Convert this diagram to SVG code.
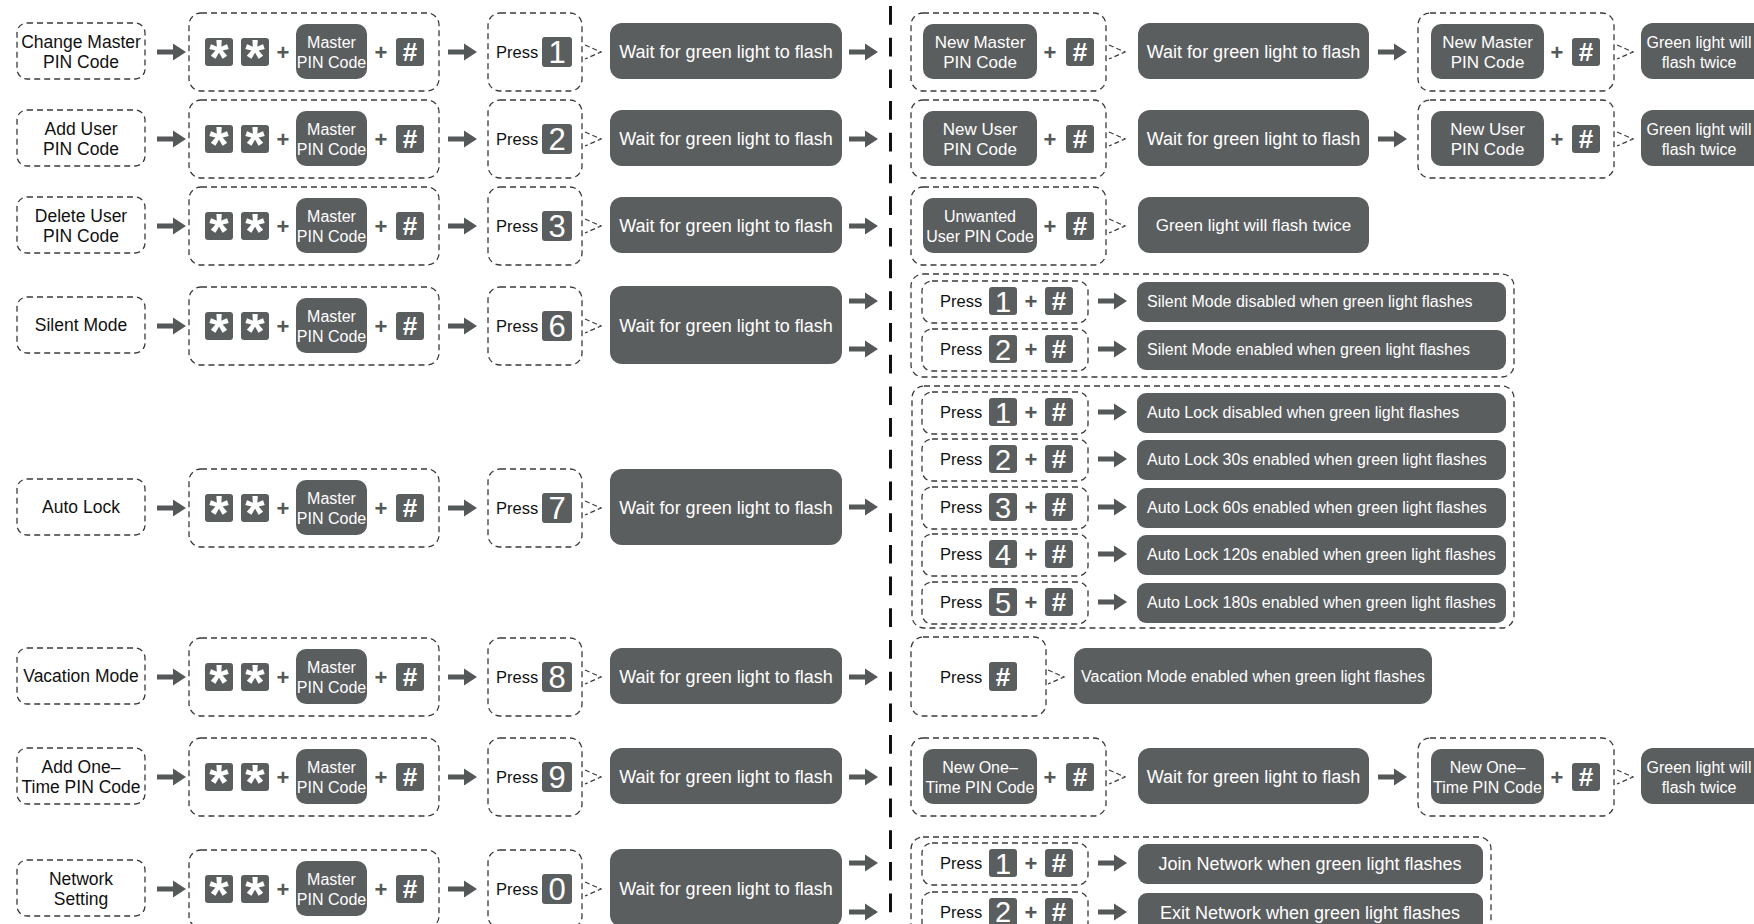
<svg xmlns="http://www.w3.org/2000/svg" xmlns:xlink="http://www.w3.org/1999/xlink" width="1754" height="924" viewBox="0 0 1754 924">
<style>
text{font-family:"Liberation Sans",Arial,sans-serif}
.d{fill:none;stroke:#3a3a3a;stroke-width:1.3;stroke-dasharray:6 4}
.b{fill:#5b5e5f}
.lab{fill:#111;font-size:17.5px;text-anchor:middle}
.pr{fill:#111;font-size:16.5px}
.w{fill:#fff;text-anchor:middle}
.m{font-size:16px}
.wt{font-size:18px}
.st{font-size:50px;font-weight:bold}
.hs{font-size:26px;font-weight:bold}
.dg{font-size:31px}
.dg2{font-size:29px}
.pl{fill:#555859;font-size:22px;font-weight:bold;text-anchor:middle}
.res{fill:#fff;font-size:16px}
.a{fill:#555859}
.ch{fill:none;stroke:#3a3a3a;stroke-width:1.2;stroke-dasharray:5 3}
</style>
<defs>
<path id="arr" class="a" d="M0,-2.5 H16 V-8.5 L29,0 L16,8.5 V2.5 H0 Z"/>
<path id="chev" class="ch" d="M2,-7 L18,0 L2,7"/>
</defs>
<rect width="1754" height="924" fill="#fff"/>
<g id="divider"><line x1="890.5" y1="6" x2="890.5" y2="924" stroke="#111" stroke-width="3" stroke-dasharray="18.7 13"/></g>

<g id="nodes">
<!-- Row 1 -->
<g transform="translate(0,51)">
<g id="r1-label"><rect class="d" x="17" y="-28" width="128" height="56" rx="10"/><text class="lab" x="81" y="-3">Change Master</text><text class="lab" x="81" y="17">PIN Code</text></g>
<g id="r1-combo"><rect class="d" x="189" y="-38" width="250" height="78" rx="12"/><rect class="b" x="205" y="-13" width="28" height="28" rx="3"/><text class="w st" x="219" y="24">*</text><rect class="b" x="241" y="-13" width="28" height="28" rx="3"/><text class="w st" x="255" y="24">*</text><text class="pl" x="283" y="9">+</text><rect class="b" x="296" y="-27" width="71" height="55" rx="10"/><text class="w m" x="331.5" y="-3">Master</text><text class="w m" x="331.5" y="17">PIN Code</text><text class="pl" x="381" y="9">+</text><rect class="b" x="396" y="-13" width="28" height="28" rx="3"/><text class="w hs" x="410" y="10">#</text></g>
<g id="r1-press"><rect class="d" x="488" y="-38" width="94" height="78" rx="12"/><text class="pr" x="496" y="7">Press</text><rect class="b" x="542" y="-14" width="30" height="30" rx="3"/><text class="w dg" x="557" y="12">1</text></g>
<g id="r1-wait"><rect class="b" x="610" y="-28" width="232" height="56" rx="12"/><text class="w wt" x="726" y="7">Wait for green light to flash</text></g>
<g id="r1-new"><rect class="d" x="911" y="-38" width="195" height="78" rx="12"/><rect class="b" x="923" y="-27" width="114" height="55" rx="10"/><text class="w" font-size="17" x="980" y="-3">New Master</text><text class="w" font-size="17" x="980" y="17">PIN Code</text><text class="pl" x="1050" y="9">+</text><rect class="b" x="1066" y="-13" width="28" height="28" rx="3"/><text class="w hs" x="1080" y="10">#</text></g>
<g id="r1-wait2"><rect class="b" x="1138" y="-28" width="231" height="56" rx="12"/><text class="w wt" x="1253.5" y="7">Wait for green light to flash</text></g>
<g id="r1-confirm"><rect class="d" x="1418" y="-38" width="196" height="78" rx="12"/><rect class="b" x="1431" y="-27" width="113" height="55" rx="10"/><text class="w" font-size="17" x="1487.5" y="-3">New Master</text><text class="w" font-size="17" x="1487.5" y="17">PIN Code</text><text class="pl" x="1557" y="9">+</text><rect class="b" x="1572" y="-13" width="28" height="28" rx="3"/><text class="w hs" x="1586" y="10">#</text></g>
<g id="r1-done"><rect class="b" x="1641" y="-28" width="125" height="56" rx="12"/><text class="w m" x="1699" y="-3">Green light will</text><text class="w m" x="1699" y="17">flash twice</text></g>
</g>

<!-- Row 2 -->
<g transform="translate(0,138)">
<g id="r2-label"><rect class="d" x="17" y="-28" width="128" height="56" rx="10"/><text class="lab" x="81" y="-3">Add User</text><text class="lab" x="81" y="17">PIN Code</text></g>
<g id="r2-combo"><rect class="d" x="189" y="-38" width="250" height="78" rx="12"/><rect class="b" x="205" y="-13" width="28" height="28" rx="3"/><text class="w st" x="219" y="24">*</text><rect class="b" x="241" y="-13" width="28" height="28" rx="3"/><text class="w st" x="255" y="24">*</text><text class="pl" x="283" y="9">+</text><rect class="b" x="296" y="-27" width="71" height="55" rx="10"/><text class="w m" x="331.5" y="-3">Master</text><text class="w m" x="331.5" y="17">PIN Code</text><text class="pl" x="381" y="9">+</text><rect class="b" x="396" y="-13" width="28" height="28" rx="3"/><text class="w hs" x="410" y="10">#</text></g>
<g id="r2-press"><rect class="d" x="488" y="-38" width="94" height="78" rx="12"/><text class="pr" x="496" y="7">Press</text><rect class="b" x="542" y="-14" width="30" height="30" rx="3"/><text class="w dg" x="557" y="12">2</text></g>
<g id="r2-wait"><rect class="b" x="610" y="-28" width="232" height="56" rx="12"/><text class="w wt" x="726" y="7">Wait for green light to flash</text></g>
<g id="r2-new"><rect class="d" x="911" y="-38" width="195" height="78" rx="12"/><rect class="b" x="923" y="-27" width="114" height="55" rx="10"/><text class="w" font-size="17" x="980" y="-3">New User</text><text class="w" font-size="17" x="980" y="17">PIN Code</text><text class="pl" x="1050" y="9">+</text><rect class="b" x="1066" y="-13" width="28" height="28" rx="3"/><text class="w hs" x="1080" y="10">#</text></g>
<g id="r2-wait2"><rect class="b" x="1138" y="-28" width="231" height="56" rx="12"/><text class="w wt" x="1253.5" y="7">Wait for green light to flash</text></g>
<g id="r2-confirm"><rect class="d" x="1418" y="-38" width="196" height="78" rx="12"/><rect class="b" x="1431" y="-27" width="113" height="55" rx="10"/><text class="w" font-size="17" x="1487.5" y="-3">New User</text><text class="w" font-size="17" x="1487.5" y="17">PIN Code</text><text class="pl" x="1557" y="9">+</text><rect class="b" x="1572" y="-13" width="28" height="28" rx="3"/><text class="w hs" x="1586" y="10">#</text></g>
<g id="r2-done"><rect class="b" x="1641" y="-28" width="125" height="56" rx="12"/><text class="w m" x="1699" y="-3">Green light will</text><text class="w m" x="1699" y="17">flash twice</text></g>
</g>

<!-- Row 3 -->
<g transform="translate(0,225)">
<g id="r3-label"><rect class="d" x="17" y="-28" width="128" height="56" rx="10"/><text class="lab" x="81" y="-3">Delete User</text><text class="lab" x="81" y="17">PIN Code</text></g>
<g id="r3-combo"><rect class="d" x="189" y="-38" width="250" height="78" rx="12"/><rect class="b" x="205" y="-13" width="28" height="28" rx="3"/><text class="w st" x="219" y="24">*</text><rect class="b" x="241" y="-13" width="28" height="28" rx="3"/><text class="w st" x="255" y="24">*</text><text class="pl" x="283" y="9">+</text><rect class="b" x="296" y="-27" width="71" height="55" rx="10"/><text class="w m" x="331.5" y="-3">Master</text><text class="w m" x="331.5" y="17">PIN Code</text><text class="pl" x="381" y="9">+</text><rect class="b" x="396" y="-13" width="28" height="28" rx="3"/><text class="w hs" x="410" y="10">#</text></g>
<g id="r3-press"><rect class="d" x="488" y="-38" width="94" height="78" rx="12"/><text class="pr" x="496" y="7">Press</text><rect class="b" x="542" y="-14" width="30" height="30" rx="3"/><text class="w dg" x="557" y="12">3</text></g>
<g id="r3-wait"><rect class="b" x="610" y="-28" width="232" height="56" rx="12"/><text class="w wt" x="726" y="7">Wait for green light to flash</text></g>
<g id="r3-unwanted"><rect class="d" x="911" y="-38" width="195" height="78" rx="12"/><rect class="b" x="923" y="-27" width="114" height="55" rx="10"/><text class="w m" x="980" y="-3">Unwanted</text><text class="w m" x="980" y="17">User PIN Code</text><text class="pl" x="1050" y="9">+</text><rect class="b" x="1066" y="-13" width="28" height="28" rx="3"/><text class="w hs" x="1080" y="10">#</text></g>
<g id="r3-done"><rect class="b" x="1138" y="-28" width="231" height="56" rx="12"/><text class="w" font-size="17" x="1253.5" y="6">Green light will flash twice</text></g>
</g>

<!-- Row 4 Silent -->
<g transform="translate(0,325)">
<g id="r4-label"><rect class="d" x="17" y="-28" width="128" height="56" rx="10"/><text class="lab" x="81" y="6">Silent Mode</text></g>
<g id="r4-combo"><rect class="d" x="189" y="-38" width="250" height="78" rx="12"/><rect class="b" x="205" y="-13" width="28" height="28" rx="3"/><text class="w st" x="219" y="24">*</text><rect class="b" x="241" y="-13" width="28" height="28" rx="3"/><text class="w st" x="255" y="24">*</text><text class="pl" x="283" y="9">+</text><rect class="b" x="296" y="-27" width="71" height="55" rx="10"/><text class="w m" x="331.5" y="-3">Master</text><text class="w m" x="331.5" y="17">PIN Code</text><text class="pl" x="381" y="9">+</text><rect class="b" x="396" y="-13" width="28" height="28" rx="3"/><text class="w hs" x="410" y="10">#</text></g>
<g id="r4-press"><rect class="d" x="488" y="-38" width="94" height="78" rx="12"/><text class="pr" x="496" y="7">Press</text><rect class="b" x="542" y="-14" width="30" height="30" rx="3"/><text class="w dg" x="557" y="12">6</text></g>
<g id="r4-wait"><rect class="b" x="610" y="-39" width="232" height="78" rx="12"/><text class="w wt" x="726" y="7">Wait for green light to flash</text></g>
</g>
<g id="silent-options">
<rect class="d" x="911" y="274" width="603" height="103" rx="12"/>
<g transform="translate(0,301)"><rect class="d" x="922" y="-20" width="166" height="42" rx="10"/><text class="pr" x="940" y="6">Press</text><rect class="b" x="989" y="-14" width="28" height="28" rx="3"/><text class="w dg2" x="1003" y="11">1</text><text class="pl" x="1031" y="8">+</text><rect class="b" x="1045" y="-14" width="28" height="28" rx="3"/><text class="w hs" x="1059" y="9">#</text><rect class="b" x="1137" y="-19" width="369" height="40" rx="9"/><text class="res" x="1147" y="6">Silent Mode disabled when green light flashes</text></g>
<g transform="translate(0,349)"><rect class="d" x="922" y="-20" width="166" height="42" rx="10"/><text class="pr" x="940" y="6">Press</text><rect class="b" x="989" y="-14" width="28" height="28" rx="3"/><text class="w dg2" x="1003" y="11">2</text><text class="pl" x="1031" y="8">+</text><rect class="b" x="1045" y="-14" width="28" height="28" rx="3"/><text class="w hs" x="1059" y="9">#</text><rect class="b" x="1137" y="-19" width="369" height="40" rx="9"/><text class="res" x="1147" y="6">Silent Mode enabled when green light flashes</text></g>
</g>

<!-- Row 5 Auto Lock -->
<g transform="translate(0,507)">
<g id="r5-label"><rect class="d" x="17" y="-28" width="128" height="56" rx="10"/><text class="lab" x="81" y="6">Auto Lock</text></g>
<g id="r5-combo"><rect class="d" x="189" y="-38" width="250" height="78" rx="12"/><rect class="b" x="205" y="-13" width="28" height="28" rx="3"/><text class="w st" x="219" y="24">*</text><rect class="b" x="241" y="-13" width="28" height="28" rx="3"/><text class="w st" x="255" y="24">*</text><text class="pl" x="283" y="9">+</text><rect class="b" x="296" y="-27" width="71" height="55" rx="10"/><text class="w m" x="331.5" y="-3">Master</text><text class="w m" x="331.5" y="17">PIN Code</text><text class="pl" x="381" y="9">+</text><rect class="b" x="396" y="-13" width="28" height="28" rx="3"/><text class="w hs" x="410" y="10">#</text></g>
<g id="r5-press"><rect class="d" x="488" y="-38" width="94" height="78" rx="12"/><text class="pr" x="496" y="7">Press</text><rect class="b" x="542" y="-14" width="30" height="30" rx="3"/><text class="w dg" x="557" y="12">7</text></g>
<g id="r5-wait"><rect class="b" x="610" y="-38" width="232" height="76" rx="12"/><text class="w wt" x="726" y="7">Wait for green light to flash</text></g>
</g>
<g id="autolock-options">
<rect class="d" x="912" y="386" width="602" height="242" rx="12"/>
<g transform="translate(0,412)"><rect class="d" x="922" y="-20" width="166" height="42" rx="10"/><text class="pr" x="940" y="6">Press</text><rect class="b" x="989" y="-14" width="28" height="28" rx="3"/><text class="w dg2" x="1003" y="11">1</text><text class="pl" x="1031" y="8">+</text><rect class="b" x="1045" y="-14" width="28" height="28" rx="3"/><text class="w hs" x="1059" y="9">#</text><rect class="b" x="1137" y="-19" width="369" height="40" rx="9"/><text class="res" x="1147" y="6">Auto Lock disabled when green light flashes</text></g>
<g transform="translate(0,459)"><rect class="d" x="922" y="-20" width="166" height="42" rx="10"/><text class="pr" x="940" y="6">Press</text><rect class="b" x="989" y="-14" width="28" height="28" rx="3"/><text class="w dg2" x="1003" y="11">2</text><text class="pl" x="1031" y="8">+</text><rect class="b" x="1045" y="-14" width="28" height="28" rx="3"/><text class="w hs" x="1059" y="9">#</text><rect class="b" x="1137" y="-19" width="369" height="40" rx="9"/><text class="res" x="1147" y="6">Auto Lock 30s enabled when green light flashes</text></g>
<g transform="translate(0,507)"><rect class="d" x="922" y="-20" width="166" height="42" rx="10"/><text class="pr" x="940" y="6">Press</text><rect class="b" x="989" y="-14" width="28" height="28" rx="3"/><text class="w dg2" x="1003" y="11">3</text><text class="pl" x="1031" y="8">+</text><rect class="b" x="1045" y="-14" width="28" height="28" rx="3"/><text class="w hs" x="1059" y="9">#</text><rect class="b" x="1137" y="-19" width="369" height="40" rx="9"/><text class="res" x="1147" y="6">Auto Lock 60s enabled when green light flashes</text></g>
<g transform="translate(0,554)"><rect class="d" x="922" y="-20" width="166" height="42" rx="10"/><text class="pr" x="940" y="6">Press</text><rect class="b" x="989" y="-14" width="28" height="28" rx="3"/><text class="w dg2" x="1003" y="11">4</text><text class="pl" x="1031" y="8">+</text><rect class="b" x="1045" y="-14" width="28" height="28" rx="3"/><text class="w hs" x="1059" y="9">#</text><rect class="b" x="1137" y="-19" width="369" height="40" rx="9"/><text class="res" x="1147" y="6">Auto Lock 120s enabled when green light flashes</text></g>
<g transform="translate(0,602)"><rect class="d" x="922" y="-20" width="166" height="42" rx="10"/><text class="pr" x="940" y="6">Press</text><rect class="b" x="989" y="-14" width="28" height="28" rx="3"/><text class="w dg2" x="1003" y="11">5</text><text class="pl" x="1031" y="8">+</text><rect class="b" x="1045" y="-14" width="28" height="28" rx="3"/><text class="w hs" x="1059" y="9">#</text><rect class="b" x="1137" y="-19" width="369" height="40" rx="9"/><text class="res" x="1147" y="6">Auto Lock 180s enabled when green light flashes</text></g>
</g>

<!-- Row 6 Vacation -->
<g transform="translate(0,676)">
<g id="r6-label"><rect class="d" x="17" y="-28" width="128" height="56" rx="10"/><text class="lab" x="81" y="6">Vacation Mode</text></g>
<g id="r6-combo"><rect class="d" x="189" y="-38" width="250" height="78" rx="12"/><rect class="b" x="205" y="-13" width="28" height="28" rx="3"/><text class="w st" x="219" y="24">*</text><rect class="b" x="241" y="-13" width="28" height="28" rx="3"/><text class="w st" x="255" y="24">*</text><text class="pl" x="283" y="9">+</text><rect class="b" x="296" y="-27" width="71" height="55" rx="10"/><text class="w m" x="331.5" y="-3">Master</text><text class="w m" x="331.5" y="17">PIN Code</text><text class="pl" x="381" y="9">+</text><rect class="b" x="396" y="-13" width="28" height="28" rx="3"/><text class="w hs" x="410" y="10">#</text></g>
<g id="r6-press"><rect class="d" x="488" y="-38" width="94" height="78" rx="12"/><text class="pr" x="496" y="7">Press</text><rect class="b" x="542" y="-14" width="30" height="30" rx="3"/><text class="w dg" x="557" y="12">8</text></g>
<g id="r6-wait"><rect class="b" x="610" y="-28" width="232" height="56" rx="12"/><text class="w wt" x="726" y="7">Wait for green light to flash</text></g>
<g id="r6-presshash"><rect class="d" x="911" y="-39" width="135" height="79" rx="12"/><text class="pr" x="940" y="7">Press</text><rect class="b" x="989" y="-14" width="28" height="29" rx="3"/><text class="w hs" x="1003" y="10">#</text></g>
<g id="r6-done"><rect class="b" x="1074" y="-28" width="358" height="56" rx="12"/><text class="w" font-size="16" x="1253" y="6">Vacation Mode enabled when green light flashes</text></g>
</g>

<!-- Row 7 One-Time -->
<g transform="translate(0,776)">
<g id="r7-label"><rect class="d" x="17" y="-28" width="128" height="56" rx="10"/><text class="lab" x="81" y="-3">Add One–</text><text class="lab" x="81" y="17">Time PIN Code</text></g>
<g id="r7-combo"><rect class="d" x="189" y="-38" width="250" height="78" rx="12"/><rect class="b" x="205" y="-13" width="28" height="28" rx="3"/><text class="w st" x="219" y="24">*</text><rect class="b" x="241" y="-13" width="28" height="28" rx="3"/><text class="w st" x="255" y="24">*</text><text class="pl" x="283" y="9">+</text><rect class="b" x="296" y="-27" width="71" height="55" rx="10"/><text class="w m" x="331.5" y="-3">Master</text><text class="w m" x="331.5" y="17">PIN Code</text><text class="pl" x="381" y="9">+</text><rect class="b" x="396" y="-13" width="28" height="28" rx="3"/><text class="w hs" x="410" y="10">#</text></g>
<g id="r7-press"><rect class="d" x="488" y="-38" width="94" height="78" rx="12"/><text class="pr" x="496" y="7">Press</text><rect class="b" x="542" y="-14" width="30" height="30" rx="3"/><text class="w dg" x="557" y="12">9</text></g>
<g id="r7-wait"><rect class="b" x="610" y="-28" width="232" height="56" rx="12"/><text class="w wt" x="726" y="7">Wait for green light to flash</text></g>
<g id="r7-new"><rect class="d" x="911" y="-38" width="195" height="78" rx="12"/><rect class="b" x="923" y="-27" width="114" height="55" rx="10"/><text class="w m" x="980" y="-3">New One–</text><text class="w m" x="980" y="17">Time PIN Code</text><text class="pl" x="1050" y="9">+</text><rect class="b" x="1066" y="-13" width="28" height="28" rx="3"/><text class="w hs" x="1080" y="10">#</text></g>
<g id="r7-wait2"><rect class="b" x="1138" y="-28" width="231" height="56" rx="12"/><text class="w wt" x="1253.5" y="7">Wait for green light to flash</text></g>
<g id="r7-confirm"><rect class="d" x="1418" y="-38" width="196" height="78" rx="12"/><rect class="b" x="1431" y="-27" width="113" height="55" rx="10"/><text class="w m" x="1487.5" y="-3">New One–</text><text class="w m" x="1487.5" y="17">Time PIN Code</text><text class="pl" x="1557" y="9">+</text><rect class="b" x="1572" y="-13" width="28" height="28" rx="3"/><text class="w hs" x="1586" y="10">#</text></g>
<g id="r7-done"><rect class="b" x="1641" y="-28" width="125" height="56" rx="12"/><text class="w m" x="1699" y="-3">Green light will</text><text class="w m" x="1699" y="17">flash twice</text></g>
</g>

<!-- Row 8 Network -->
<g transform="translate(0,888)">
<g id="r8-label"><rect class="d" x="17" y="-28" width="128" height="56" rx="10"/><text class="lab" x="81" y="-3">Network</text><text class="lab" x="81" y="17">Setting</text></g>
<g id="r8-combo"><rect class="d" x="189" y="-38" width="250" height="78" rx="12"/><rect class="b" x="205" y="-13" width="28" height="28" rx="3"/><text class="w st" x="219" y="24">*</text><rect class="b" x="241" y="-13" width="28" height="28" rx="3"/><text class="w st" x="255" y="24">*</text><text class="pl" x="283" y="9">+</text><rect class="b" x="296" y="-27" width="71" height="55" rx="10"/><text class="w m" x="331.5" y="-3">Master</text><text class="w m" x="331.5" y="17">PIN Code</text><text class="pl" x="381" y="9">+</text><rect class="b" x="396" y="-13" width="28" height="28" rx="3"/><text class="w hs" x="410" y="10">#</text></g>
<g id="r8-press"><rect class="d" x="488" y="-38" width="94" height="78" rx="12"/><text class="pr" x="496" y="7">Press</text><rect class="b" x="542" y="-14" width="30" height="30" rx="3"/><text class="w dg" x="557" y="12">0</text></g>
<g id="r8-wait"><rect class="b" x="610" y="-39" width="232" height="78" rx="12"/><text class="w wt" x="726" y="7">Wait for green light to flash</text></g>
</g>
<g id="network-options">
<rect class="d" x="911" y="837" width="580" height="130" rx="12"/>
<g transform="translate(0,863)"><rect class="d" x="922" y="-20" width="166" height="42" rx="10"/><text class="pr" x="940" y="6">Press</text><rect class="b" x="989" y="-14" width="28" height="28" rx="3"/><text class="w dg2" x="1003" y="11">1</text><text class="pl" x="1031" y="8">+</text><rect class="b" x="1045" y="-14" width="28" height="28" rx="3"/><text class="w hs" x="1059" y="9">#</text><rect class="b" x="1138" y="-19" width="345" height="40" rx="9"/><text class="w" font-size="18" x="1310" y="7">Join Network when green light flashes</text></g>
<g transform="translate(0,912)"><rect class="d" x="922" y="-20" width="166" height="42" rx="10"/><text class="pr" x="940" y="6">Press</text><rect class="b" x="989" y="-14" width="28" height="28" rx="3"/><text class="w dg2" x="1003" y="10">2</text><text class="pl" x="1031" y="8">+</text><rect class="b" x="1045" y="-14" width="28" height="28" rx="3"/><text class="w hs" x="1059" y="9">#</text><rect class="b" x="1138" y="-19" width="345" height="40" rx="9"/><text class="w" font-size="18" x="1310" y="7">Exit Network when green light flashes</text></g>
</g>
</g>

<g id="connectors">
<g transform="translate(0,51)"><use href="#arr" x="157" y="1"/><use href="#arr" x="448" y="1"/><use href="#chev" x="583" y="1"/><use href="#arr" x="849" y="1"/><use href="#chev" x="1107" y="1"/><use href="#arr" x="1378" y="1"/><use href="#chev" x="1615" y="1"/></g>
<g transform="translate(0,138)"><use href="#arr" x="157" y="1"/><use href="#arr" x="448" y="1"/><use href="#chev" x="583" y="1"/><use href="#arr" x="849" y="1"/><use href="#chev" x="1107" y="1"/><use href="#arr" x="1378" y="1"/><use href="#chev" x="1615" y="1"/></g>
<g transform="translate(0,225)"><use href="#arr" x="157" y="1"/><use href="#arr" x="448" y="1"/><use href="#chev" x="583" y="1"/><use href="#arr" x="849" y="1"/><use href="#chev" x="1107" y="1"/></g>
<g transform="translate(0,325)"><use href="#arr" x="157" y="1"/><use href="#arr" x="448" y="1"/><use href="#chev" x="583" y="1"/><use href="#arr" x="849" y="-24"/><use href="#arr" x="849" y="24"/></g>
<use href="#arr" x="1098" y="301"/><use href="#arr" x="1098" y="349"/>
<g transform="translate(0,507)"><use href="#arr" x="157" y="1"/><use href="#arr" x="448" y="1"/><use href="#chev" x="583" y="1"/><use href="#arr" x="849" y="0"/></g>
<use href="#arr" x="1098" y="412"/><use href="#arr" x="1098" y="459"/><use href="#arr" x="1098" y="507"/><use href="#arr" x="1098" y="554"/><use href="#arr" x="1098" y="602"/>
<g transform="translate(0,676)"><use href="#arr" x="157" y="1"/><use href="#arr" x="448" y="1"/><use href="#chev" x="583" y="1"/><use href="#arr" x="849" y="1"/><use href="#chev" x="1046" y="1"/></g>
<g transform="translate(0,776)"><use href="#arr" x="157" y="1"/><use href="#arr" x="448" y="1"/><use href="#chev" x="583" y="1"/><use href="#arr" x="849" y="1"/><use href="#chev" x="1107" y="1"/><use href="#arr" x="1378" y="1"/><use href="#chev" x="1615" y="1"/></g>
<g transform="translate(0,888)"><use href="#arr" x="157" y="1"/><use href="#arr" x="448" y="1"/><use href="#chev" x="583" y="1"/><use href="#arr" x="849" y="-25"/><use href="#arr" x="849" y="24"/></g>
<use href="#arr" x="1098" y="863"/><use href="#arr" x="1098" y="912"/>
</g>
</svg>
